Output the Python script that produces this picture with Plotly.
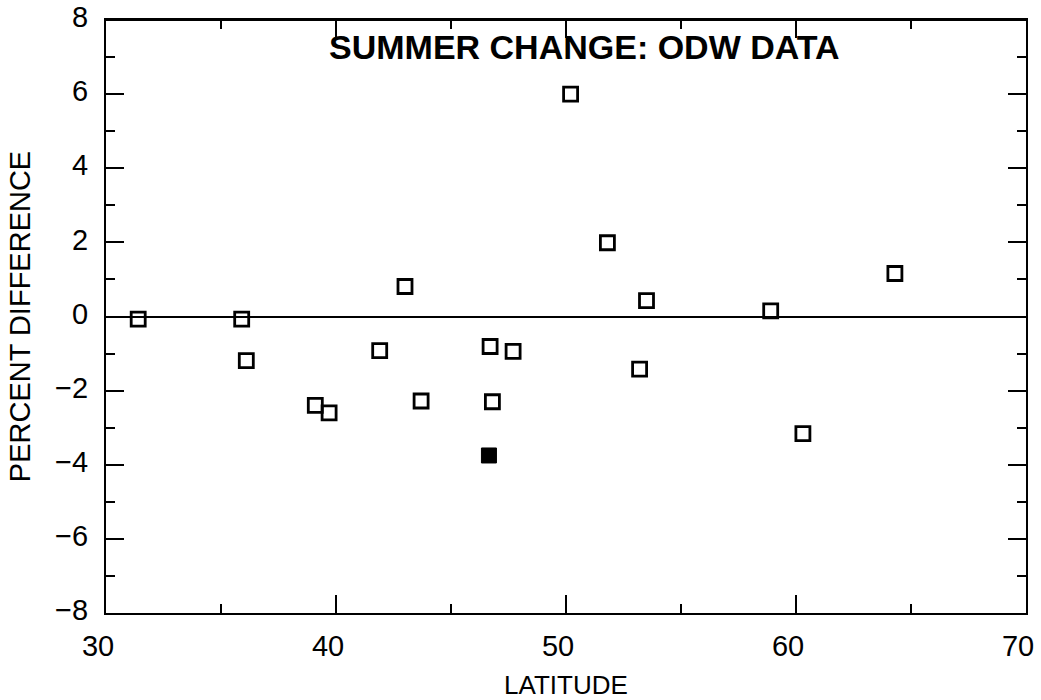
import plotly.graph_objects as go

# Open-square stations
latitude = [31.4, 35.9, 36.1, 39.1, 39.7, 41.9, 43.0, 43.7, 46.7, 46.8, 47.7,
            50.2, 51.8, 53.2, 53.5, 58.9, 60.3, 64.3]
pct_diff = [-0.07, -0.07, -1.19, -2.40, -2.60, -0.92, 0.81, -2.28, -0.81, -2.30,
            -0.94, 6.00, 1.99, -1.42, 0.43, 0.15, -3.16, 1.16]

# Filled-square station
latitude_filled = [46.65]
pct_diff_filled = [-3.75]

x_ticks = [30, 40, 50, 60, 70]
y_ticks = [-8, -6, -4, -2, 0, 2, 4, 6, 8]

title_text = "SUMMER CHANGE: ODW DATA"
x_title = "LATITUDE"
y_title = "PERCENT DIFFERENCE"

FONT = "Liberation Sans, Arial, Helvetica, sans-serif"

fig = go.Figure()
fig.add_trace(go.Scatter(
    x=latitude, y=pct_diff, mode="markers",
    marker=dict(symbol="square-open", size=14, color="black",
                line=dict(width=2.8, color="black")),
    showlegend=False, hoverinfo="x+y"))
fig.add_trace(go.Scatter(
    x=latitude_filled, y=pct_diff_filled, mode="markers",
    marker=dict(symbol="square", size=15, color="black",
                line=dict(width=1, color="black")),
    showlegend=False, hoverinfo="x+y"))

axis_common = dict(
    showgrid=False, showline=True, linecolor="black", linewidth=2.2,
    mirror="ticks", ticks="inside", ticklen=18, tickwidth=1.6, tickcolor="black",
    tickfont=dict(family=FONT, size=29, color="black"),
    automargin=False, ticklabeloverflow="allow",
)

fig.update_xaxes(
    range=[30, 70], tickvals=x_ticks, zeroline=False,
    minor=dict(dtick=5, ticks="inside", ticklen=9, tickwidth=1.6, tickcolor="black"),
    title=dict(text=x_title, font=dict(family=FONT, size=26, color="black"), standoff=34),
    ticklabelstandoff=6, ticklabelshift=-8,
    **axis_common)
fig.update_yaxes(
    range=[-8, 8], tickvals=y_ticks, zeroline=True, zerolinecolor="black", zerolinewidth=1.5,
    minor=dict(dtick=1, ticks="inside", ticklen=9, tickwidth=1.6, tickcolor="black"),
    title=dict(text=y_title, font=dict(family=FONT, size=29, color="black"), standoff=16),
    ticklabelstandoff=10, ticklabelshift=-3,
    **axis_common)

# explicit top frame edge
fig.add_shape(type="line", xref="paper", yref="paper", x0=0, x1=1, y0=1, y1=1,
              line=dict(color="black", width=2.2), layer="above")

fig.add_annotation(
    x=50.8, y=7.27, xref="x", yref="y", text="<b>" + title_text + "</b>",
    showarrow=False, font=dict(family=FONT, size=34, color="black"),
    xanchor="center", yanchor="middle")

fig.update_layout(
    width=1041, height=700,
    margin=dict(l=106, r=15, t=20, b=87),
    plot_bgcolor="white", paper_bgcolor="white",
)

fig.write_html("out.html",
               config={"displayModeBar": False},
               post_script="document.body.style.margin='0';document.body.style.overflow='hidden';")
